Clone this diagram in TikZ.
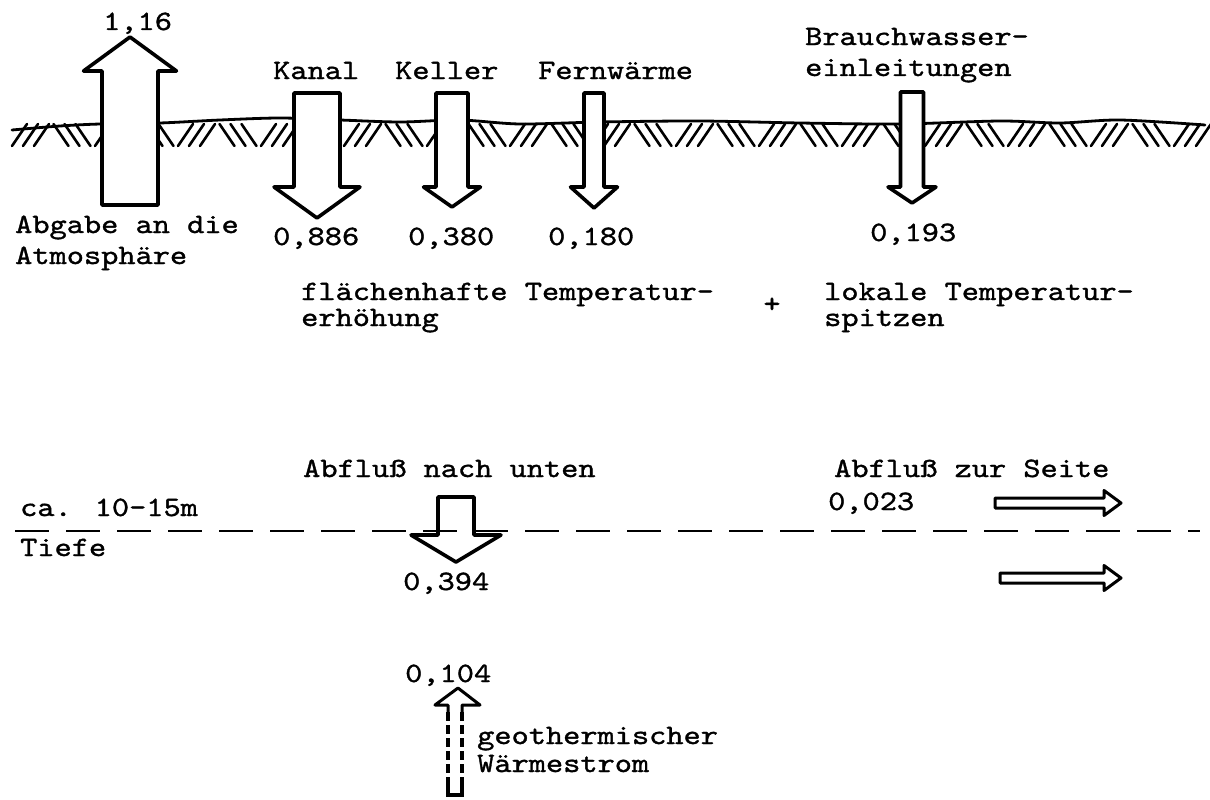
\documentclass[tikz,border=0pt]{standalone}
\usepackage{fontspec}
\newfontfamily\typewriter{lmmono10-regular.otf}[FakeStretch=1.17,FakeBold=1.2]
\usetikzlibrary{positioning}

% vertical block arrow: x, tail y, head base y, tip y, shaft half width, head half width
\newcommand{\vflow}[6]{%
  \draw[blockarrow] (#1-#5,#2) -- (#1-#5,#3) -- (#1-#6,#3) -- (#1,#4)
    -- (#1+#6,#3) -- (#1+#5,#3) -- (#1+#5,#2) -- cycle;}
% horizontal block arrow: y, tail x, head base x, tip x, shaft half width, head half width
\newcommand{\hflow}[6]{%
  \draw[thinarrow] (#2,#1-#5) -- (#3,#1-#5) -- (#3,#1-#6) -- (#4,#1)
    -- (#3,#1+#6) -- (#3,#1+#5) -- (#2,#1+#5) -- cycle;}

\begin{document}
\begin{tikzpicture}[
    x=1pt, y=-1pt,
    font=\typewriter\fontsize{28}{31}\selectfont,
    txt/.style={anchor=base west, inner sep=0pt, align=left},
    blockarrow/.style={draw=black, fill=white, line width=3.6pt, line join=round},
    thinarrow/.style={draw=black, fill=white, line width=3pt, line join=round},
    surface/.style={line width=2.8pt, line cap=round},
    soil/.style={line width=2.6pt, line cap=round},
    depthline/.style={line width=2.4pt, dash pattern=on 34pt off 17pt}
]
\useasboundingbox (0,0) rectangle (1210,800);

% ground
\foreach \i in {0,...,28}{
  \pgfmathsetmacro{\gx}{12+41.5*\i}
  \ifodd\i
    \foreach \o in {0,11,22} \draw[soil] (\gx+\o,124) -- ++(15,22);
  \else
    \foreach \o in {0,11,22} \draw[soil] (\gx+\o+15,124) -- ++(-15,22);
  \fi
}
\draw[surface] plot[smooth] coordinates {(12,130) (60,126) (100,124) (160,123)
  (220,120) (280,118) (340,120) (400,122) (460,120) (520,124) (600,122) (700,121)
  (800,123) (900,124) (1000,121) (1060,123) (1120,120) (1205,125)};

% heat flows through the surface
\vflow{130}{205}{71}{37}{28}{46.5}
\vflow{317}{93}{187}{218}{23}{43}
\vflow{452}{93}{187}{207}{16}{28.5}
\vflow{594}{93}{187}{208}{10}{23.5}
\vflow{912}{92}{187}{203}{11.5}{24}

\node[txt] (atmwert) at (103,30) {1,16};
\node[txt] (kanal) at (273,79) {Kanal};
\node[txt] (keller) at (395,79) {Keller};
\node[txt] (fern) at (538,79) {Fernwärme};
\node[txt] (brauch) at (805,76) {Brauchwasser-\\einleitungen};
\node[txt] (abgabe) at (15,264) {Abgabe an die\\Atmosphäre};
\node[txt] (kanalwert) at (273,245) {0,886};
\node[txt] (kellerwert) at (408,245) {0,380};
\node[txt] (fernwert) at (548,245) {0,180};
\node[txt] (brauchwert) at (870,241) {0,193};

\node[txt, font=\typewriter\fontsize{28}{26}\selectfont] (flaech) at (301,326) {flächenhafte Temperatur-\\erhöhung};
\node[inner sep=0pt] (plus) at (772,305) {+};
\node[txt, font=\typewriter\fontsize{28}{26}\selectfont] (lokal) at (824,326) {lokale Temperatur-\\spitzen};

% depth
\node[txt] (abunten) at (303,477) {Abfluß nach unten};
\node[txt] (abseite) at (834,477) {Abfluß zur Seite};
\node[txt] (seitewert) at (828,510) {0,023};
\vflow{456}{497}{535}{562}{18}{45}
\hflow{503}{995}{1104}{1121}{5}{12.5}
\hflow{578}{1000}{1104}{1121}{5}{12.5}
\draw[depthline] (15,531) -- (1200,531);
\node[txt] (ca) at (20,516) {ca. 10-15m};
\node[txt] (tiefe) at (20,556) {Tiefe};
\node[txt] (untenwert) at (403,590) {0,394};

% geothermal flow
\node[txt] (geowert) at (405,682) {0,104};
\draw[thinarrow] (448,712) -- (448,705) -- (435,705) -- (458,688) -- (480,705)
  -- (462,705) -- (462,712);
\draw[line width=3.2pt, dash pattern=on 9pt off 4pt] (448,712) -- (448,785)
  (462,712) -- (462,785);
\draw[line width=3.2pt] (448,785) -- (448,795) -- (462,795) -- (462,785);
\node[txt, font=\typewriter\fontsize{28}{28}\selectfont] (geo) at (477,772) {geothermischer\\Wärmestrom};
\end{tikzpicture}
\end{document}
